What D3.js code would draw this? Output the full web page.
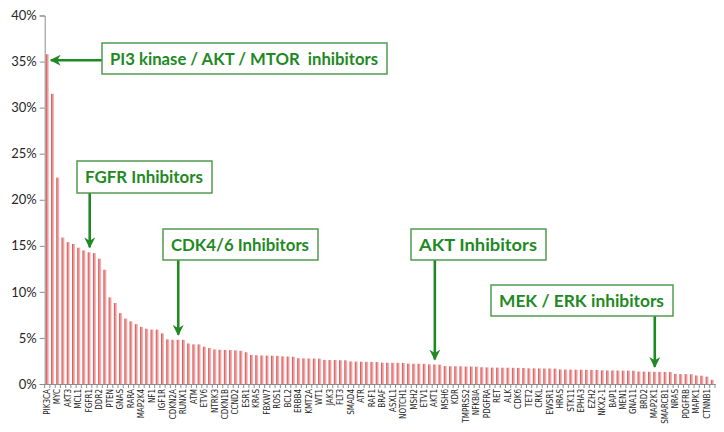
<!DOCTYPE html>
<html><head><meta charset="utf-8">
<script src="https://cdn.jsdelivr.net/npm/d3@7"></script>
<style>html,body{margin:0;padding:0;background:#fff;}</style>
</head><body>
<svg id="chart" width="724" height="432"></svg>
<script>
// Gene labels shown under every other bar
const geneLabels = ["PIK3CA","MYC","AKT3","MCL1","FGFR1","DDR2","PTEN","GNAS","RARA","MAP2K4","NF1","IGF1R","CDKN2A","RUNX1","ATM","ETV6","NTRK3","CDKN1B","CCND2","ESR1","KRAS","FBXW7","ROS1","BCL2","ERBB4","KMT2A","WT1","JAK3","FLT3","SMAD4","ATR","RAF1","BRAF","ASXL1","NOTCH1","MSH2","ETV1","AKT1","MSH6","KDR","TMPRSS2","NFKBIA","PDGFRA","RET","ALK","CDK6","TET2","CRKL","EWSR1","HRAS","STK11","EPHA3","EZH2","NKX2-1","BAP1","MEN1","GNA11","BRD2","MAP2K1","SMARCB1","NRAS","PDGFRB","MAPK1","CTNNB1"];
// Percent of samples with alteration, one value per bar (128 bars)
const values = [35.8,31.5,22.4,15.9,15.4,15.2,14.8,14.5,14.3,14.2,13.6,12.4,9.4,8.8,7.7,7.1,6.8,6.5,6.2,6.0,
5.9,5.9,5.5,4.85,4.8,4.8,4.8,4.4,4.3,4.3,4.05,3.9,3.75,3.72,3.7,3.68,3.65,3.6,3.45,3.15,
3.12,3.1,3.08,3.07,3.05,3.0,2.98,2.95,2.8,2.78,2.77,2.76,2.75,2.62,2.6,2.6,2.58,2.57,2.45,2.43,
2.42,2.41,2.4,2.38,2.32,2.31,2.3,2.3,2.28,2.22,2.2,2.2,2.18,2.13,2.12,2.1,1.95,1.93,1.92,1.92,
1.9,1.9,1.88,1.82,1.8,1.78,1.78,1.77,1.77,1.76,1.75,1.74,1.7,1.7,1.69,1.68,1.68,1.67,1.58,1.57,
1.56,1.55,1.55,1.54,1.53,1.52,1.48,1.47,1.47,1.46,1.45,1.45,1.44,1.35,1.34,1.33,1.32,1.32,1.31,1.3,
1.1,1.08,1.07,1.06,0.92,0.9,0.8,0.45];
const yTicks = [0,5,10,15,20,25,30,35,40];
// Annotations: text, target bar index
const annoText = ["PI3 kinase / AKT / MTOR  inhibitors","FGFR Inhibitors","CDK4/6 Inhibitors","AKT Inhibitors","MEK / ERK inhibitors"];
const annoTarget = [0, 8, 25, 74, 116];

const svg = d3.select("#chart");
const m = {left:44.7, right:715, top:15.5, bottom:384};
const x = d3.scaleBand().domain(d3.range(values.length)).range([m.left, m.right]).paddingInner(0.42).paddingOuter(0.21);
const y = d3.scaleLinear().domain([0,40]).range([m.bottom, m.top]);

const defs = svg.append("defs");
const g = defs.append("linearGradient").attr("id","barGrad").attr("x1","0").attr("x2","1").attr("y1","0").attr("y2","0");
g.append("stop").attr("offset","0").attr("stop-color","#c9474a");
g.append("stop").attr("offset","0.45").attr("stop-color","#ee8e8e");
g.append("stop").attr("offset","1").attr("stop-color","#f8c4c4");
const mk = defs.append("marker").attr("id","arr").attr("viewBox","0 0 10 10").attr("refX",9).attr("refY",5)
  .attr("markerWidth",4.2).attr("markerHeight",4.2).attr("orient","auto-start-reverse").attr("markerUnits","strokeWidth");
mk.append("path").attr("d","M0,0 L10,5 L0,10 L3,5 Z").attr("fill","#1f8a24");

// bars
svg.append("g").selectAll("rect").data(values).join("rect")
  .attr("x",(d,i)=>x(i)).attr("width",x.bandwidth())
  .attr("y",d=>y(d)).attr("height",d=>y(0)-y(d))
  .attr("fill","url(#barGrad)");

// y axis
const yAxis = d3.axisLeft(y).tickValues(yTicks).tickFormat(d=>d+"%").tickSize(5).tickPadding(3);
const ya = svg.append("g").attr("transform",`translate(${m.left},0)`).call(yAxis);
ya.select(".domain").attr("stroke","#8c8c8c");
ya.selectAll(".tick line").attr("stroke","#8c8c8c");
ya.selectAll(".tick text").attr("font-family","Lato, 'Open Sans', sans-serif").attr("font-size","13px").attr("fill","#262626");

// x axis
const xAxis = d3.axisBottom(x).tickValues(d3.range(0, values.length, 2)).tickFormat(i=>geneLabels[i/2]).tickSize(0).tickPadding(4);
const xa = svg.append("g").attr("transform",`translate(0,${m.bottom})`).call(xAxis);
xa.select(".domain").attr("stroke","#8c8c8c");
xa.selectAll(".tick text").attr("font-family","'Liberation Sans Narrow', 'DejaVu Sans Condensed', sans-serif").attr("font-size","8px").attr("fill","#222")
  .attr("transform","rotate(-90)").attr("text-anchor","end").attr("dx","-5px").attr("dy","0.33em").attr("x",0).attr("y",0);
// minor ticks at band boundaries
xa.append("g").selectAll("line").data(d3.range(values.length+1)).join("line")
  .attr("x1",i=>m.left + i*x.step()).attr("x2",i=>m.left + i*x.step())
  .attr("y1",0).attr("y2",4).attr("stroke","#8c8c8c");

// annotations
const boxes = [[102,43,285,31],[77,161,135,32],[163,229,155,31],[411,229,135,31],[491,285,182,31]];
const ann = svg.append("g");
annoText.forEach((t,k)=>{
  const [bx,by,bw,bh] = boxes[k];
  const ti = annoTarget[k];
  const cx = x(ti)+x.bandwidth()/2;
  let line;
  if (k===0) {
    const yy = y(values[ti]) + 6;
    line = [[bx, yy],[x(ti)+x.bandwidth()+2, yy]];
  } else {
    const ax = k===1 ? cx+0.5 : cx;
    line = [[ax, by+bh],[ax, y(values[ti]) - 5]];
  }
  ann.append("line").attr("x1",line[0][0]).attr("y1",line[0][1]).attr("x2",line[1][0]).attr("y2",line[1][1])
    .attr("stroke","#1f8a24").attr("stroke-width",2.6).attr("marker-end","url(#arr)");
  ann.append("rect").attr("x",bx).attr("y",by).attr("width",bw).attr("height",bh)
    .attr("fill","#fff").attr("stroke","#4f9c4f").attr("stroke-width",1.5);
  const tx = ann.append("text").attr("x",bx+8).attr("y",by+bh/2+6).text(t)
    .attr("font-family","Lato, 'Open Sans', sans-serif").attr("font-weight","bold").attr("font-size","17px").attr("fill","#1f8a24")
    .attr("xml:space","preserve").style("white-space","pre");
  tx.attr("textLength", bw-17).attr("lengthAdjust","spacingAndGlyphs");
});
</script>
</body></html>
